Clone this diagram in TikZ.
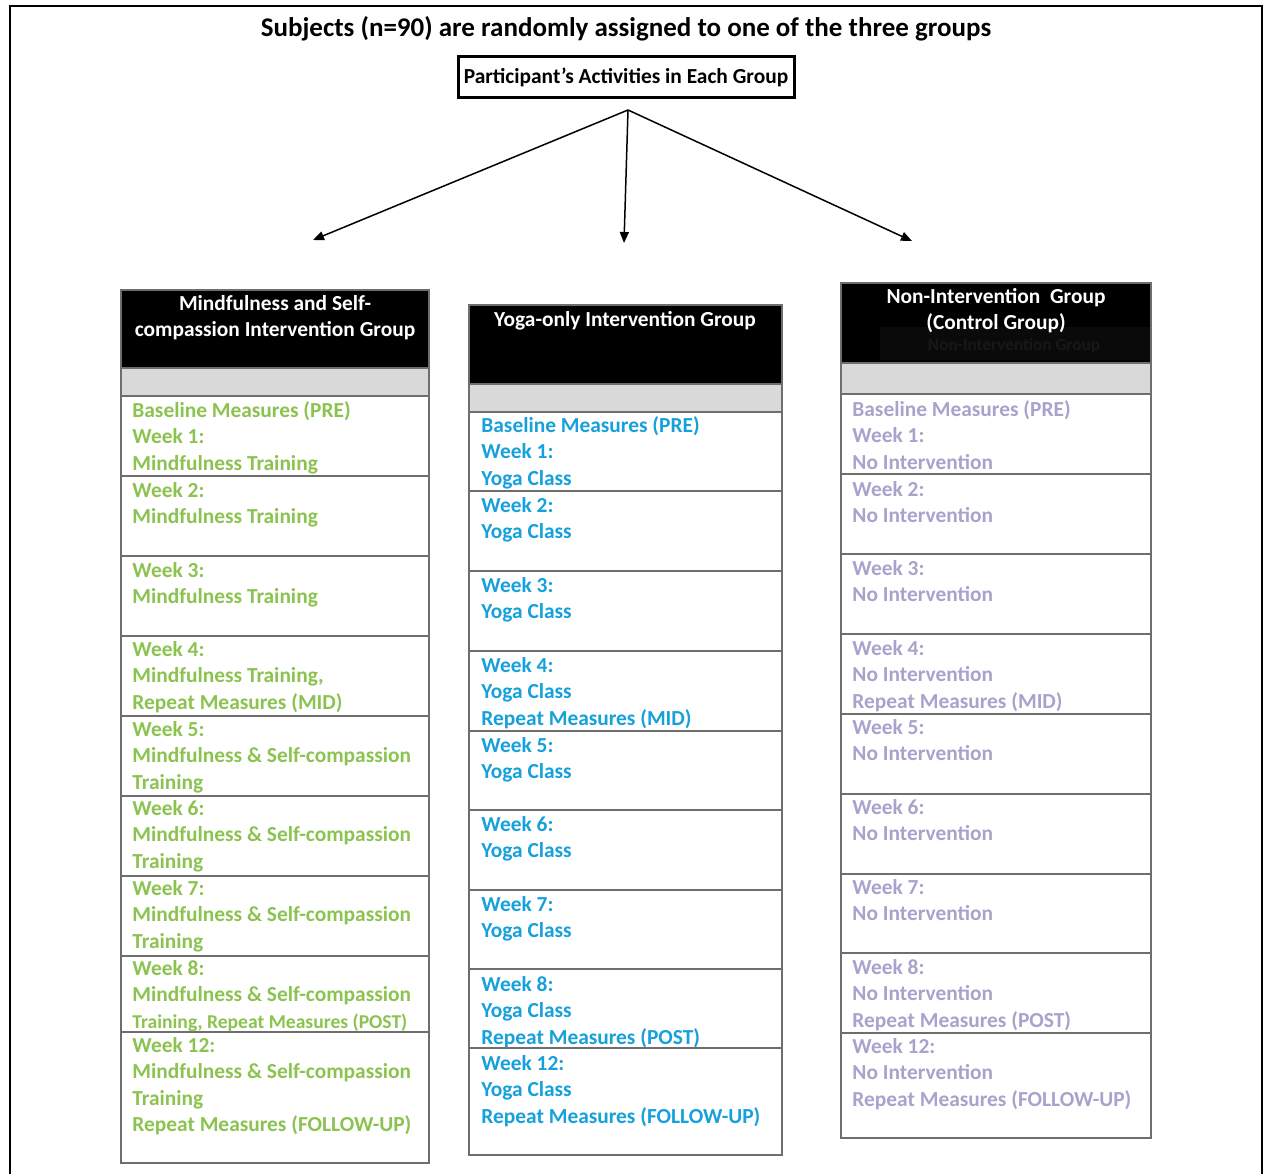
\documentclass[tikz,border=0pt]{standalone}
\usepackage{fontspec}
\setmainfont{Carlito}
\usetikzlibrary{arrows.meta}
\definecolor{mgreen}{RGB}{140,195,80}
\definecolor{yblue}{RGB}{22,160,220}
\definecolor{cpurple}{RGB}{170,162,204}
\definecolor{bandgray}{RGB}{217,217,217}
\definecolor{rulegray}{RGB}{110,110,110}
\definecolor{ghostfill}{RGB}{10,10,10}
\definecolor{ghosttext}{RGB}{24,24,24}
\begin{document}
\begin{tikzpicture}[x=0.5pt,y=-0.5pt,
  body/.style={anchor=north west, inner sep=0pt, align=left,
    font=\fontsize{10.7}{13.15}\selectfont\bfseries},
  headtext/.style={anchor=center, inner sep=0pt, align=center, text=white,
    font=\fontsize{10.7}{13.15}\selectfont\bfseries},
  colrule/.style={draw=rulegray, line width=1pt},
  conn/.style={line width=0.75pt, -{Triangle[length=5.5pt,width=4.5pt]}}]
\useasboundingbox (0,0) rectangle (1273,1173);
\fill[white] (0,0) rectangle (1273,1173);
% outer frame
\draw[line width=0.8pt] (10,1180) -- (10,6) -- (1262,6) -- (1262,1180);
% title
\node[inner sep=0pt, font=\fontsize{13.5}{16}\selectfont\bfseries] (title) at (626,29)
  {Subjects (n=90) are randomly assigned to one of the three groups};
\node[draw, line width=1.5pt, minimum width=168pt, minimum height=20.5pt, inner sep=0pt,
  font=\fontsize{10.7}{13.15}\selectfont\bfseries] (act) at (626,77)
  {Participant’s Activities in Each Group};
\coordinate (split) at (628,110);
\coordinate (t1) at (313,240);
\coordinate (t2) at (624,243);
\coordinate (t3) at (912,241);
\draw[conn] (split) -- (t1);
\draw[conn] (split) -- (t2);
\draw[conn] (split) -- (t3);
% ---------- column 1
\fill[black] (121,290) rectangle (429,368);
\fill[bandgray] (121,368) rectangle (429,396);
\draw[colrule] (121,290) rectangle (429,1163);
\foreach \yy in {368,396,476,556,636,716,796,876,956,1032}
  \draw[colrule] (121,\yy) -- (429,\yy);
\node[headtext] (h1) at (275,318) {Mindfulness and Self-\\compassion Intervention Group};
\begin{scope}[every node/.append style={body, text=mgreen}]
\node (a1) at (132,398.6) {\strut Baseline Measures (PRE)\\Week 1:\\Mindfulness Training};
\node (a2) at (132,478.6) {\strut Week 2:\\Mindfulness Training};
\node (a3) at (132,558.6) {\strut Week 3:\\Mindfulness Training};
\node (a4) at (132,637.6) {\strut Week 4:\\Mindfulness Training,\\Repeat Measures (MID)};
\node (a5) at (132,717.6) {\strut Week 5:\\Mindfulness \& Self-compassion\\Training};
\node (a6) at (132,796.6) {\strut Week 6:\\Mindfulness \& Self-compassion\\Training};
\node (a7) at (132,876.6) {\strut Week 7:\\Mindfulness \& Self-compassion\\Training};
\node (a8) at (132,956.6) {\strut Week 8:\\Mindfulness \& Self-compassion\\{\fontsize{9.8}{12}\selectfont Training, Repeat Measures (POST)}};
\node (a9) at (132,1033.6) {\strut Week 12:\\Mindfulness \& Self-compassion\\Training\\Repeat Measures (FOLLOW-UP)};
\end{scope}
% ---------- column 2
\fill[black] (469,305) rectangle (782,384);
\fill[bandgray] (469,384) rectangle (782,412);
\draw[colrule] (469,305) rectangle (782,1155);
\foreach \yy in {384,412,491,571,651,731,810,890,969,1048}
  \draw[colrule] (469,\yy) -- (782,\yy);
\node[headtext] (h2) at (625,321) {Yoga-only Intervention Group};
\begin{scope}[every node/.append style={body, text=yblue}]
\node (b1) at (481,413.6) {\strut Baseline Measures (PRE)\\Week 1:\\Yoga Class};
\node (b2) at (481,493.6) {\strut Week 2:\\Yoga Class};
\node (b3) at (481,573.6) {\strut Week 3:\\Yoga Class};
\node (b4) at (481,653.6) {\strut Week 4:\\Yoga Class\\Repeat Measures (MID)};
\node (b5) at (481,733.6) {\strut Week 5:\\Yoga Class};
\node (b6) at (481,812.6) {\strut Week 6:\\Yoga Class};
\node (b7) at (481,892.6) {\strut Week 7:\\Yoga Class};
\node (b8) at (481,972.6) {\strut Week 8:\\Yoga Class\\Repeat Measures (POST)};
\node (b9) at (481,1051.6) {\strut Week 12:\\Yoga Class\\Repeat Measures (FOLLOW-UP)};
\end{scope}
% ---------- column 3
\fill[black] (841,283) rectangle (1151,363);
\fill[ghostfill] (880,327) rectangle (1150,360);
\node[inner sep=0pt, text=ghosttext, font=\fontsize{8.6}{10}\selectfont\bfseries] (ghost) at (1014,346) {Non-Intervention Group};
\fill[bandgray] (841,363) rectangle (1151,394);
\draw[colrule] (841,283) rectangle (1151,1138);
\foreach \yy in {363,394,474,554,634,714,794,874,953,1033}
  \draw[colrule] (841,\yy) -- (1151,\yy);
\node[headtext] (h3) at (996,311) {Non-Intervention~~Group\\(Control Group)};
\begin{scope}[every node/.append style={body, text=cpurple}]
\node (c1) at (852,397.6) {\strut Baseline Measures (PRE)\\Week 1:\\No Intervention};
\node (c2) at (852,477.6) {\strut Week 2:\\No Intervention};
\node (c3) at (852,556.6) {\strut Week 3:\\No Intervention};
\node (c4) at (852,636.6) {\strut Week 4:\\No Intervention\\Repeat Measures (MID)};
\node (c5) at (852,715.6) {\strut Week 5:\\No Intervention};
\node (c6) at (852,795.6) {\strut Week 6:\\No Intervention};
\node (c7) at (852,875.6) {\strut Week 7:\\No Intervention};
\node (c8) at (852,955.6) {\strut Week 8:\\No Intervention\\Repeat Measures (POST)};
\node (c9) at (852,1034.6) {\strut Week 12:\\No Intervention\\Repeat Measures (FOLLOW-UP)};
\end{scope}
\end{tikzpicture}
\end{document}
